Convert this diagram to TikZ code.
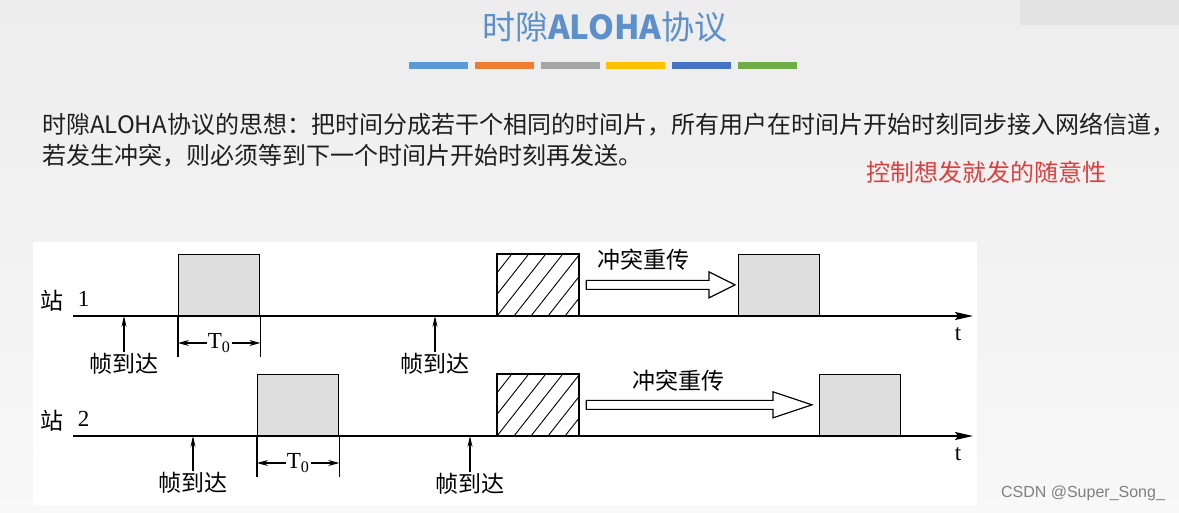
\documentclass[tikz,border=0pt]{standalone}
\usepackage{fontspec}
\setmainfont{Liberation Serif}
\newfontfamily\cjk{Noto Sans CJK SC}
\newfontfamily\wmfont{Liberation Sans}
\usetikzlibrary{arrows.meta, calc, positioning}
\definecolor{slidebg}{HTML}{EDEDED}
\definecolor{titleblue}{RGB}{92,143,204}
\definecolor{notered}{RGB}{222,62,62}
\definecolor{boxgray}{HTML}{DEDEDE}
\definecolor{bar0}{HTML}{5B9BD5}
\definecolor{bar1}{HTML}{ED7D31}
\definecolor{bar2}{HTML}{A5A5A5}
\definecolor{bar3}{HTML}{FFC000}
\definecolor{bar4}{HTML}{4472C4}
\definecolor{bar5}{HTML}{70AD47}
\tikzset{every node/.style={inner sep=1pt}}

\begin{document}
\begin{tikzpicture}[x=1pt, y=-1pt,
    pkt/.style={draw, fill=boxgray, line width=1.3pt, minimum width=81pt,
      minimum height=61pt, inner sep=0pt, anchor=south west},
    clash/.style={draw, fill=white, line width=1.3pt, minimum width=81pt,
      minimum height=61pt, inner sep=0pt, anchor=south west},
    axis/.style={line width=1.6pt, -{Stealth[length=18pt, width=8pt, inset=3pt]}},
    arrive/.style={line width=1.1pt, -{Stealth[length=11pt, width=5pt]}},
    dimtip/.style={line width=1.1pt, -{Stealth[length=11pt, width=6pt]}},
    hollow/.style={draw, fill=white, line width=1.2pt, line join=miter},
    lbl/.style={font=\cjk\fontsize{23}{23}\selectfont},
    num/.style={font=\fontsize{23}{23}\selectfont}]

    % slide background
    \fill[top color=slidebg, bottom color=slidebg!40] (0,0) rectangle (1179,512);
    \fill[black!11] (1020,0) rectangle (1179,25);

    % title and colour bars
    \node[text=titleblue, font=\cjk\fontsize{33}{33}\selectfont] (title) at (605,27) {时隙\textbf{ALOHA}协议};
    \foreach \i in {0,...,5}
        \fill[bar\i] (409+\i*65.8,62) rectangle ++(59,7);

    % text
    \node[anchor=west, text=black!88, font=\cjk\fontsize{24}{28}\selectfont] (line1) at (41,125)
        {时隙ALOHA协议的思想：把时间分成若干个相同的时间片，所有用户在时间片开始时刻同步接入网络信道，};
    \node[anchor=west, text=black!88, font=\cjk\fontsize{24}{28}\selectfont] (line2) at (41,156)
        {若发生冲突，则必须等到下一个时间片开始时刻再发送。};
    \node[anchor=west, text=notered, font=\cjk\fontsize{24}{28}\selectfont] (note) at (865,172)
        {控制想发就发的随意性};

    % diagram area
    \fill[white] (33,242) rectangle (977,505);

    % station 1
    \coordinate (o1) at (73,316);
    \coordinate (e1) at (973,316);
    \node[lbl] (st1) at (52,301) {站};
    \node[num, right=12pt of st1, yshift=2pt] (n1) {1};
    \node[pkt] (p1a) at (178,316) {};
    \node[clash] (h1) at (497,316) {};
    \node[pkt] (p1c) at (738,316) {};
    \draw[axis] (o1) -- (e1);
    \node[num] (t1) at (958,334) {t};

    % station 2
    \coordinate (o2) at (73,436);
    \coordinate (e2) at (973,436);
    \node[lbl] (st2) at (52,421) {站};
    \node[num, right=12pt of st2, yshift=2pt] (n2) {2};
    \node[pkt] (p2a) at (257,436) {};
    \node[clash] (h2) at (497,436) {};
    \node[pkt] (p2c) at (819,436) {};
    \draw[axis] (o2) -- (e2);
    \node[num] (t2) at (958,454) {t};

    % hatching of the clashed slots
    \foreach \h in {h1,h2} {
        \begin{scope}
            \clip (\h.south west) rectangle (\h.north east);
            \foreach \i in {-3,...,5}
                \draw[line width=0.9pt] ($(\h.south west)+(\i*17,0)$) -- ++(48,-61);
        \end{scope}
        \draw[line width=1.3pt] (\h.south west) rectangle (\h.north east);
    }

    % frame arrivals
    \node[lbl, anchor=north] (f1) at (124,352) {帧到达};
    \node[lbl, anchor=north] (f2) at (435,352) {帧到达};
    \node[lbl, anchor=north] (f3) at (193,471) {帧到达};
    \node[lbl, anchor=north] (f4) at (470,472) {帧到达};
    \draw[arrive] (f1.north) -- (f1.north |- o1);
    \draw[arrive] (f2.north) -- (f2.north |- o1);
    \draw[arrive] (f3.north) -- (f3.north |- o2);
    \draw[arrive] (f4.north) -- (f4.north |- o2);

    % slot length
    \draw[line width=1.1pt] (p1a.south west) -- ++(0,41) (p1a.south east) -- ++(0,41);
    \draw[line width=1.1pt] (p2a.south west) -- ++(0,41) (p2a.south east) -- ++(0,41);
    \node[num] (d1) at ($(p1a.south)+(0,27)$) {T\textsubscript{0}};
    \node[num] (d2) at ($(p2a.south)+(0,27)$) {T\textsubscript{0}};
    \draw[dimtip] (d1.west) -- (d1.west -| p1a.west);
    \draw[dimtip] (d1.east) -- (d1.east -| p1a.east);
    \draw[dimtip] (d2.west) -- (d2.west -| p2a.west);
    \draw[dimtip] (d2.east) -- (d2.east -| p2a.east);

    % retransmission arrows
    \path (h1.east) ++(7,0) coordinate (r1s);
    \path (p1c.west) ++(-3,0) coordinate (r1e);
    \draw[hollow] ($(r1s)+(0,-4.5)$) -- ($(r1e)+(-26,-4.5)$) -- ($(r1e)+(-26,-13)$)
        -- (r1e) -- ($(r1e)+(-26,13)$) -- ($(r1e)+(-26,4.5)$) -- ($(r1s)+(0,4.5)$) -- cycle;
    \node[lbl] (c1) at (643,260) {冲突重传};
    \path (h2.east) ++(7,0) coordinate (r2s);
    \path (p2c.west) ++(-7,0) coordinate (r2e);
    \draw[hollow] ($(r2s)+(0,-4.5)$) -- ($(r2e)+(-39,-4.5)$) -- ($(r2e)+(-39,-13)$)
        -- (r2e) -- ($(r2e)+(-39,13)$) -- ($(r2e)+(-39,4.5)$) -- ($(r2s)+(0,4.5)$) -- cycle;
    \node[lbl] (c2) at (678,381) {冲突重传};

    % watermark
    \node[text=black!50, font=\wmfont\fontsize{16}{16}\selectfont] (wm) at (1083,493) {CSDN @Super\_Song\_};

    \useasboundingbox (0,0) rectangle (1179,512);
\end{tikzpicture}
\end{document}
